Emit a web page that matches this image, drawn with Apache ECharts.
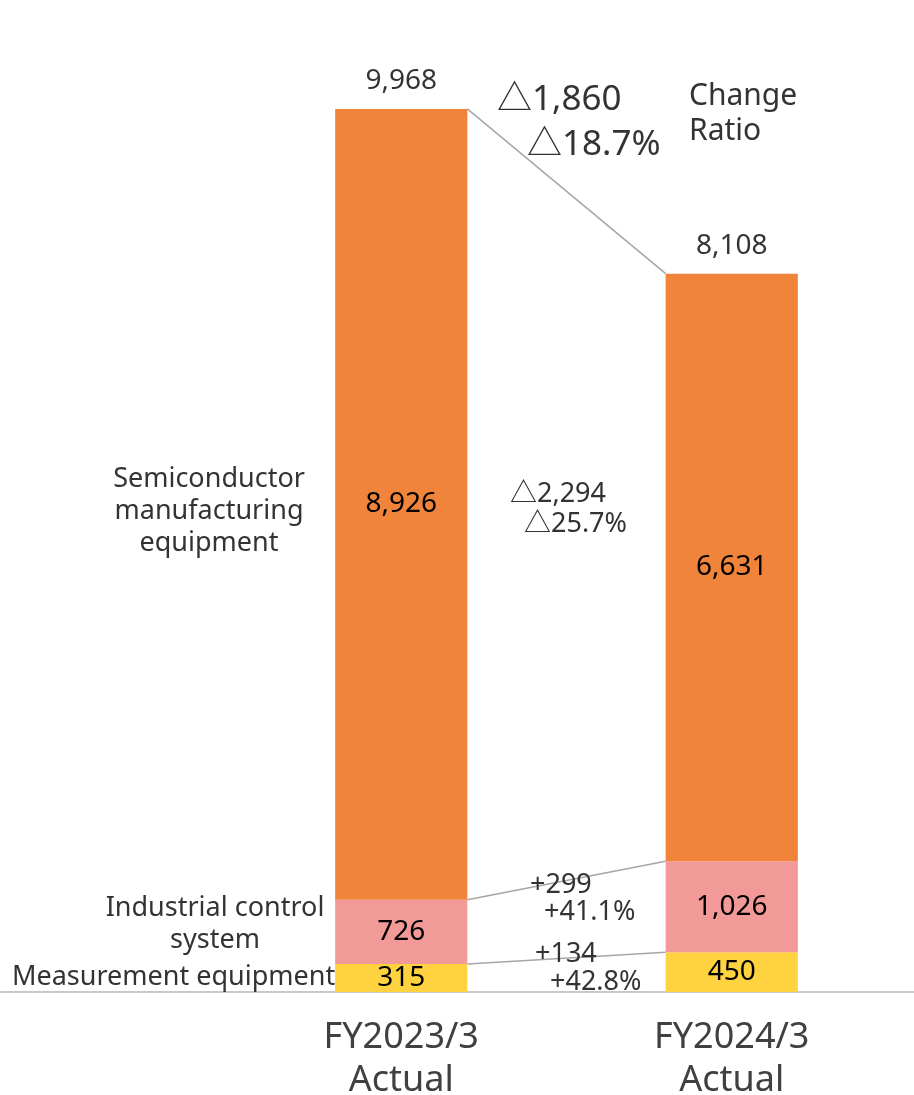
<!DOCTYPE html>
<html>
<head>
<meta charset="utf-8">
<script src="https://cdn.jsdelivr.net/npm/echarts@6/dist/echarts.min.js"></script>
<style>
html,body{margin:0;padding:0;background:#fff;}
#chart{width:914px;height:1095px;}
</style>
</head>
<body>
<div id="chart"></div>
<script>
const categories = ['FY2023/3\nActual', 'FY2024/3\nActual'];
const measurement = [315, 450];
const industrial = [726, 1026];
const semiconductor = [8926, 6631];
const totals = [9968, 8108];

const FONT = "'Noto Sans', 'Noto Sans CJK JP', sans-serif";
const fmt = v => Number(v).toLocaleString('en-US');

const levels = [
  [measurement[0], measurement[1]],
  [measurement[0] + industrial[0], measurement[1] + industrial[1]],
  [totals[0], totals[1]]
];

const chart = echarts.init(document.getElementById('chart'));

function txt(text, x, y, size, align, color) {
  return {
    type: 'text', x: x, y: y + 2, z: 100,
    style: {
      text: text, fill: color || '#333333',
      font: size + 'px ' + FONT,
      textAlign: align || 'left', textVerticalAlign: 'middle'
    }
  };
}

const barLabel = {
  show: true, position: 'inside', color: '#000', fontSize: 28, fontFamily: FONT,
  formatter: p => fmt(p.value)
};

chart.setOption({
  animation: false,
  backgroundColor: '#ffffff',
  grid: [
    { left: 236, right: 17, top: 106, bottom: 103, outerBoundsMode: 'none', containLabel: false },
    { left: 0, right: 0, top: 106, bottom: 103, outerBoundsMode: 'none', containLabel: false }
  ],
  xAxis: [
    {
      type: 'category', data: categories, gridIndex: 0,
      axisLine: { show: false }, axisTick: { show: false },
      axisLabel: { color: '#404040', fontSize: 36, fontFamily: FONT, lineHeight: 43, margin: 24 }
    },
    {
      type: 'value', gridIndex: 1, min: 0, max: 1,
      axisLine: { show: true, lineStyle: { color: '#C8C8C8', width: 2 } },
      axisTick: { show: false }, axisLabel: { show: false }, splitLine: { show: false }
    }
  ],
  yAxis: [
    { type: 'value', gridIndex: 0, min: 0, max: 10000, show: false },
    { type: 'value', gridIndex: 1, min: 0, max: 1, show: false }
  ],
  series: [
    {
      name: 'Measurement equipment', type: 'bar', stack: 'a', data: measurement,
      barWidth: '40%', itemStyle: { color: '#FFD23F' }, label: barLabel
    },
    {
      name: 'Industrial control system', type: 'bar', stack: 'a', data: industrial,
      barWidth: '40%', itemStyle: { color: '#F29A97' }, label: barLabel
    },
    {
      name: 'Semiconductor manufacturing equipment', type: 'bar', stack: 'a', data: semiconductor,
      barWidth: '40%', itemStyle: { color: '#F0843A' }, label: barLabel
    },
    {
      name: 'Total', type: 'scatter', data: totals, symbolSize: 0,
      label: {
        show: true, position: 'top', distance: 14, color: '#000', fontSize: 28, fontFamily: FONT,
        formatter: p => fmt(p.value)
      }
    },
    {
      name: 'Connectors', type: 'custom', coordinateSystem: 'cartesian2d', silent: true, z: 1,
      data: levels.map(l => [0, l[0], l[1]]),
      encode: { x: 0, y: 1 },
      renderItem: function (params, api) {
        const half = api.size([1, 0])[0] * 0.2;
        const p1 = api.coord([0, api.value(1)]);
        const p2 = api.coord([1, api.value(2)]);
        return {
          type: 'line',
          shape: { x1: p1[0] + half, y1: p1[1], x2: p2[0] - half, y2: p2[1] },
          style: { stroke: '#A6A6A6', lineWidth: 1.5 }
        };
      }
    }
  ],
  graphic: [
    txt('△1,860', 497, 98, 35),
    txt('△18.7%', 527, 143, 35),
    txt('Change', 689, 94, 30),
    txt('Ratio', 689, 129, 30),
    txt('△2,294', 510, 492, 27),
    txt('△25.7%', 524, 522, 27),
    txt('+299', 530, 883, 27),
    txt('+41.1%', 544, 910, 27),
    txt('+134', 535, 952, 27),
    txt('+42.8%', 550, 980, 27),
    txt('Semiconductor', 209, 477, 27, 'center'),
    txt('manufacturing', 209, 509, 27, 'center'),
    txt('equipment', 209, 541, 27, 'center'),
    txt('Industrial control', 215, 906, 27, 'center'),
    txt('system', 215, 938, 27, 'center'),
    txt('Measurement equipment', 12, 975, 27, 'left')
  ]
});
</script>
</body>
</html>
